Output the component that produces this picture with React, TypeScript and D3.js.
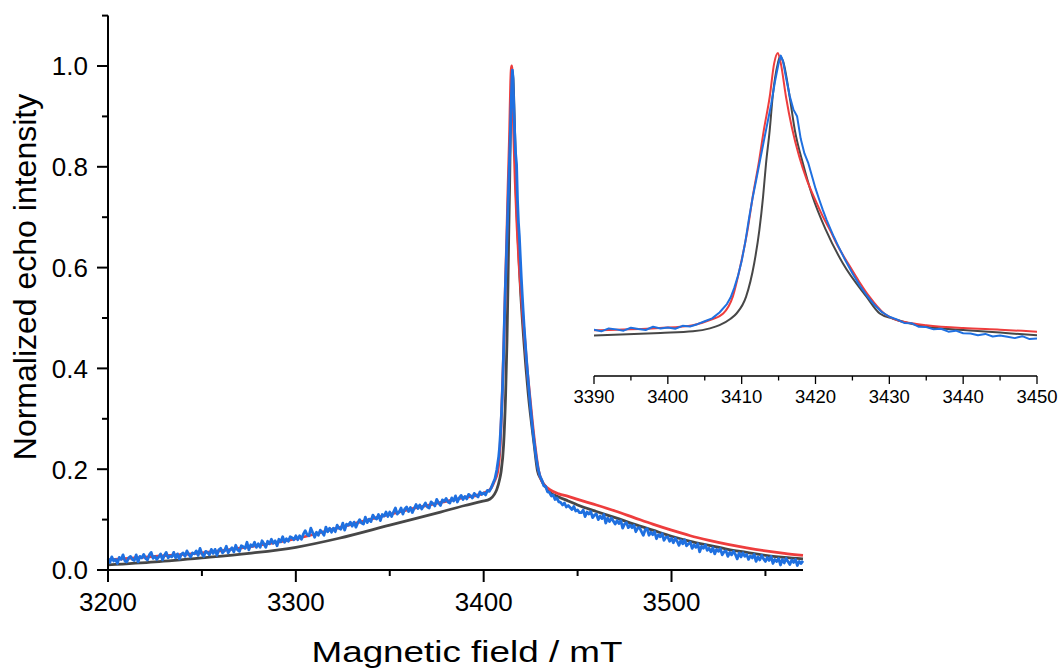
import React from "react";
import * as d3 from "d3";

// echo-detected field sweeps, normalized; [field mT, intensity]
const blackTrace: [number, number][] = [
  [3200, 0.010], [3225, 0.016], [3250, 0.024], [3275, 0.033], [3300, 0.045],
  [3323, 0.063], [3350, 0.089], [3377, 0.115], [3390, 0.128], [3399, 0.136],
  [3403.4, 0.141], [3405.7, 0.150], [3407, 0.160], [3408.5, 0.180], [3409.3, 0.196],
  [3410.6, 0.248], [3411.7, 0.351], [3412.4, 0.454], [3412.9, 0.557], [3413.3, 0.659],
  [3413.8, 0.762], [3414.2, 0.865], [3414.9, 0.968], [3415.2, 0.989], [3415.6, 0.975],
  [3416.5, 0.865], [3417.2, 0.762], [3418.3, 0.659], [3419.6, 0.557], [3421.4, 0.454],
  [3423.7, 0.351], [3426.9, 0.248], [3428.7, 0.196], [3430.5, 0.180], [3432.7, 0.166],
  [3435, 0.155], [3440, 0.145], [3445, 0.137], [3450, 0.129], [3460, 0.116],
  [3470, 0.104], [3480, 0.091], [3490, 0.079], [3500, 0.067], [3510, 0.057],
  [3520, 0.049], [3530, 0.041], [3540, 0.035], [3550, 0.029], [3560, 0.025],
  [3570, 0.022],
];

const redTrace: [number, number][] = [
  [3200, 0.020], [3225, 0.027], [3250, 0.034], [3275, 0.046], [3300, 0.062],
  [3320, 0.081], [3340, 0.101], [3360, 0.120], [3380, 0.136], [3390, 0.144],
  [3398.9, 0.151], [3403.4, 0.160], [3405.7, 0.176], [3407.5, 0.196], [3408.8, 0.248],
  [3409.9, 0.351], [3410.8, 0.454], [3411.5, 0.557], [3412.3, 0.659], [3413, 0.762],
  [3413.8, 0.865], [3414.4, 0.968], [3414.9, 1.0], [3415.3, 0.968], [3416, 0.865],
  [3416.8, 0.770], [3417.8, 0.680], [3418.8, 0.610], [3420, 0.545], [3421, 0.495],
  [3422, 0.452], [3423, 0.405], [3424.4, 0.351], [3425.9, 0.295], [3427.3, 0.248],
  [3429.3, 0.196], [3431, 0.176], [3433, 0.166], [3435, 0.160], [3440, 0.151],
  [3445, 0.146], [3450, 0.140], [3460, 0.129], [3470, 0.117], [3480, 0.104],
  [3490, 0.091], [3500, 0.079], [3510, 0.068], [3520, 0.059], [3530, 0.051],
  [3540, 0.044], [3550, 0.038], [3560, 0.033], [3570, 0.029],
];

// blue (noisy) trace, left wing 3200..3389, one reading per mT
const blueLeftStart = 3200;
const blueLeft = [
  0.023, 0.015, 0.026, 0.018, 0.021, 0.013, 0.025, 0.021, 0.030, 0.018,
  0.016, 0.024, 0.027, 0.021, 0.019, 0.030, 0.016, 0.027, 0.024, 0.031,
  0.023, 0.020, 0.030, 0.035, 0.023, 0.027, 0.021, 0.026, 0.032, 0.020,
  0.029, 0.035, 0.024, 0.028, 0.026, 0.035, 0.024, 0.032, 0.022, 0.031,
  0.034, 0.027, 0.038, 0.031, 0.026, 0.034, 0.032, 0.038, 0.029, 0.043,
  0.032, 0.027, 0.037, 0.035, 0.030, 0.041, 0.033, 0.041, 0.029, 0.040,
  0.043, 0.034, 0.038, 0.047, 0.034, 0.040, 0.044, 0.036, 0.049, 0.040,
  0.037, 0.048, 0.046, 0.043, 0.055, 0.040, 0.050, 0.047, 0.055, 0.045,
  0.052, 0.045, 0.058, 0.052, 0.045, 0.057, 0.052, 0.061, 0.053, 0.058,
  0.048, 0.061, 0.056, 0.066, 0.055, 0.062, 0.057, 0.066, 0.064, 0.060,
  0.068, 0.060, 0.068, 0.061, 0.071, 0.078, 0.070, 0.068, 0.083, 0.074,
  0.065, 0.075, 0.069, 0.079, 0.075, 0.069, 0.085, 0.076, 0.083, 0.075,
  0.083, 0.076, 0.089, 0.083, 0.081, 0.093, 0.079, 0.091, 0.089, 0.095,
  0.087, 0.095, 0.085, 0.094, 0.100, 0.093, 0.091, 0.105, 0.094, 0.101,
  0.096, 0.109, 0.103, 0.101, 0.110, 0.098, 0.110, 0.107, 0.115, 0.106,
  0.115, 0.106, 0.115, 0.123, 0.111, 0.115, 0.123, 0.111, 0.121, 0.125,
  0.116, 0.124, 0.114, 0.122, 0.130, 0.122, 0.129, 0.121, 0.127, 0.133,
  0.125, 0.123, 0.135, 0.132, 0.127, 0.140, 0.133, 0.128, 0.139, 0.136,
  0.142, 0.135, 0.133, 0.143, 0.137, 0.147, 0.135, 0.143, 0.148, 0.140,
];

// blue trace across the line
const bluePeak: [number, number][] = [
  [3390, 0.146], [3391, 0.141], [3392, 0.150], [3393, 0.147], [3394, 0.143],
  [3395, 0.152], [3396, 0.148], [3397, 0.145], [3398, 0.155], [3399, 0.150],
  [3400, 0.153], [3401, 0.149], [3402, 0.158], [3403, 0.156], [3404, 0.163],
  [3405, 0.172], [3406, 0.181], [3407, 0.199], [3408, 0.225], [3408.5, 0.245],
  [3409, 0.275], [3409.5, 0.312], [3410, 0.358], [3410.5, 0.418], [3411, 0.490],
  [3411.5, 0.555], [3412, 0.612], [3412.5, 0.670], [3413, 0.728], [3413.5, 0.785],
  [3414, 0.842], [3414.5, 0.910], [3415, 0.968], [3415.3, 0.992], [3415.6, 0.975],
  [3416, 0.925], [3416.5, 0.868], [3417, 0.826], [3417.5, 0.805], [3418, 0.735],
  [3418.5, 0.690], [3419, 0.662], [3419.5, 0.622], [3420, 0.582], [3420.5, 0.548],
  [3421, 0.515], [3421.5, 0.485], [3422, 0.458], [3422.5, 0.432], [3423, 0.408],
  [3424, 0.362], [3425, 0.320], [3426, 0.282], [3427, 0.250], [3428, 0.222],
  [3429, 0.200], [3430, 0.186], [3431, 0.178], [3432, 0.167], [3433, 0.166],
  [3434, 0.155], [3435, 0.154], [3436, 0.147], [3437, 0.149], [3438, 0.140],
  [3439, 0.143], [3440, 0.135], [3441, 0.134], [3442, 0.129], [3443, 0.133],
  [3444, 0.125], [3445, 0.128], [3446, 0.124], [3447, 0.120], [3448, 0.126],
  [3449, 0.117], [3450, 0.119], [3451, 0.114],
];

// blue trace, right wing 3452..3570, one reading per mT
const blueRightStart = 3452;
const blueRight = [
  0.114, 0.119, 0.106, 0.115, 0.111, 0.116, 0.104, 0.109,
  0.111, 0.100, 0.107, 0.102, 0.110, 0.093, 0.103, 0.096, 0.103, 0.097,
  0.091, 0.098, 0.092, 0.098, 0.083, 0.091, 0.094, 0.084, 0.089, 0.084,
  0.089, 0.076, 0.083, 0.084, 0.076, 0.069, 0.080, 0.082, 0.069, 0.075,
  0.070, 0.076, 0.062, 0.070, 0.066, 0.072, 0.059, 0.065, 0.066, 0.057,
  0.063, 0.054, 0.063, 0.057, 0.049, 0.059, 0.052, 0.060, 0.048, 0.052,
  0.055, 0.043, 0.050, 0.045, 0.052, 0.036, 0.047, 0.043, 0.050, 0.039,
  0.043, 0.036, 0.044, 0.032, 0.041, 0.037, 0.042, 0.030, 0.036, 0.038,
  0.027, 0.035, 0.030, 0.037, 0.031, 0.022, 0.034, 0.026, 0.034, 0.027,
  0.031, 0.021, 0.028, 0.024, 0.031, 0.017, 0.026, 0.020, 0.029, 0.022,
  0.017, 0.025, 0.019, 0.027, 0.013, 0.021, 0.017, 0.023, 0.010, 0.021,
  0.014, 0.023, 0.017, 0.011, 0.020, 0.015, 0.021, 0.009, 0.017, 0.013,
  0.018,
];
const blueStep = 1;

const mainMajorX = [3200, 3300, 3400, 3500];
const mainMinorX = [3250, 3350, 3450, 3550];
const mainMajorY = [0, 0.2, 0.4, 0.6, 0.8, 1.0];
const mainMinorY = [0.1, 0.3, 0.5, 0.7, 0.9, 1.1];
const insetMajorX = [3390, 3400, 3410, 3420, 3430, 3440, 3450];
const insetMinorX = [3395, 3405, 3415, 3425, 3435, 3445];

const RED = "#ee3d3d";
const BLUE = "#1f70e0";
const GREY = "#474747";
const FONT = "'Liberation Sans', Arial, sans-serif";

export default function App() {
  const blueTrace: [number, number][] = [
    ...blueLeft.map((v, i) => [blueLeftStart + i * blueStep, v] as [number, number]),
    ...bluePeak,
    ...blueRight.map((v, i) => [blueRightStart + i * blueStep, v] as [number, number]),
  ];

  const x = d3.scaleLinear().domain([3200, 3570]).range([108, 803]);
  const y = d3.scaleLinear().domain([0, 1.1]).range([570, 15.6]);
  const xi = d3.scaleLinear().domain([3390, 3450]).range([594, 1037]);
  const yi = d3.scaleLinear().domain([0, 1]).range([377, 53]);

  const smooth = (sx: any, sy: any) =>
    d3.line<[number, number]>().x((d) => sx(d[0])).y((d) => sy(d[1])).curve(d3.curveMonotoneX);
  const raw = (sx: any, sy: any) =>
    d3.line<[number, number]>().x((d) => sx(d[0])).y((d) => sy(d[1]));

  const series = [
    { data: blackTrace, color: GREY, noisy: false },
    { data: redTrace, color: RED, noisy: false },
    { data: blueTrace, color: BLUE, noisy: true },
  ];

  return (
    <svg
      width={1062}
      height={671}
      style={{ position: "absolute", left: 0, top: 0, background: "#fff" }}
      fontFamily={FONT}
    >
      <defs>
        <clipPath id="insetClip">
          <rect x={594} y={0} width={443} height={377} />
        </clipPath>
      </defs>

      {/* main traces */}
      {series.map((s, i) => (
        <path
          key={"m" + i}
          d={(s.noisy ? raw(x, y) : smooth(x, y))(s.data) || ""}
          fill="none"
          stroke={s.color}
          strokeWidth={2.8}
          strokeLinejoin="round"
        />
      ))}

      {/* main axes */}
      <line x1={108} x2={108} y1={y(1.1)} y2={571} stroke="#000" strokeWidth={2} />
      <line x1={107} x2={803} y1={570} y2={570} stroke="#000" strokeWidth={2} />
      {mainMajorY.map((v) => (
        <g key={"my" + v}>
          <line x1={97} x2={108} y1={y(v)} y2={y(v)} stroke="#000" strokeWidth={2} />
          <text x={88} y={y(v)} dy="0.36em" textAnchor="end" fontSize={26}>
            {v.toFixed(1)}
          </text>
        </g>
      ))}
      {mainMinorY.map((v) => (
        <line key={"mny" + v} x1={102} x2={108} y1={y(v)} y2={y(v)} stroke="#000" strokeWidth={2} />
      ))}
      {mainMajorX.map((v) => (
        <g key={"mx" + v}>
          <line x1={x(v)} x2={x(v)} y1={570} y2={582} stroke="#000" strokeWidth={2} />
          <text x={x(v)} y={611} textAnchor="middle" fontSize={26}>
            {v}
          </text>
        </g>
      ))}
      {mainMinorX.map((v) => (
        <line key={"mnx" + v} x1={x(v)} x2={x(v)} y1={570} y2={576} stroke="#000" strokeWidth={2} />
      ))}
      <text
        x={467}
        y={662}
        textAnchor="middle"
        fontSize={30}
        textLength={311}
        lengthAdjust="spacingAndGlyphs"
      >
        Magnetic field / mT
      </text>
      <text transform="translate(36,277) rotate(-90)" textAnchor="middle" fontSize={32}>
        Normalized echo intensity
      </text>

      {/* inset */}
      <g clipPath="url(#insetClip)">
        {series.map((s, i) => (
          <path
            key={"i" + i}
            d={(s.noisy ? raw(xi, yi) : smooth(xi, yi))(s.data) || ""}
            fill="none"
            stroke={s.color}
            strokeWidth={2}
            strokeLinejoin="round"
          />
        ))}
      </g>
      <line x1={594} x2={1037} y1={376} y2={376} stroke="#000" strokeWidth={1.3} />
      {insetMajorX.map((v) => (
        <g key={"ix" + v}>
          <line x1={xi(v)} x2={xi(v)} y1={376} y2={384} stroke="#000" strokeWidth={1.3} />
          <text x={xi(v)} y={403} textAnchor="middle" fontSize={18.5}>
            {v}
          </text>
        </g>
      ))}
      {insetMinorX.map((v) => (
        <line key={"inx" + v} x1={xi(v)} x2={xi(v)} y1={376} y2={380.5} stroke="#000" strokeWidth={1.3} />
      ))}
    </svg>
  );
}
